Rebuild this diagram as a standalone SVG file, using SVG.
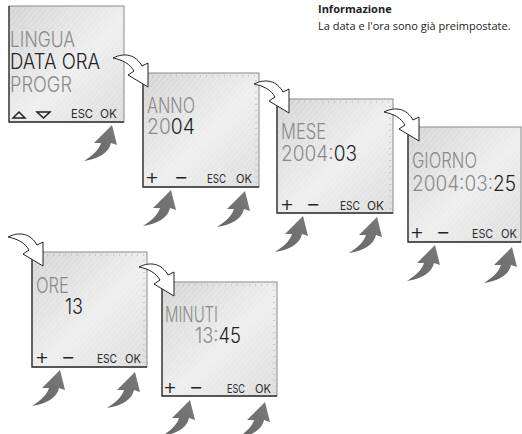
<svg xmlns="http://www.w3.org/2000/svg" xmlns:xlink="http://www.w3.org/1999/xlink" width="522" height="434" viewBox="0 0 522 434">
<style>
.lcd{font-family:"Inter","DejaVu Sans Condensed","DejaVu Sans",sans-serif;font-weight:300;font-size:21px}
.dim{fill:#8a8a8a}
.on{fill:#222}
.btn{font-family:"Inter","DejaVu Sans Condensed","DejaVu Sans",sans-serif;font-weight:400;font-size:12px;fill:#2a2a2a}
.sym{font-family:"DejaVu Sans",sans-serif;font-size:16px;fill:#222;text-anchor:middle}
.face{fill:url(#bg)}
.hatch{fill:url(#stripes)}
.edge{fill:none;stroke:#8a8a8a;stroke-width:1}
.dark{fill:none;stroke:#333;stroke-width:1.3}
.ticks{fill:none;stroke:#b0b0b0;stroke-width:1;stroke-dasharray:1 5}
.flow{fill:#fff;stroke:#222;stroke-width:1;stroke-linejoin:miter}
.press{fill:url(#pg)}
.info{font-family:"Open Sans","Noto Sans",sans-serif;font-size:11px;fill:#222}
</style>
<defs>
<linearGradient id="bg" x1="0" y1="0" x2="1" y2="1">
<stop offset="0" stop-color="#d4d4d4"/>
<stop offset="0.55" stop-color="#eeeeee"/>
<stop offset="1" stop-color="#dcdcdc"/>
</linearGradient>
<pattern id="stripes" width="4" height="4" patternUnits="userSpaceOnUse" patternTransform="rotate(40)">
<line x1="0" y1="0" x2="0" y2="4" stroke="#ffffff" stroke-width="1" opacity="0.5"/>
</pattern>
<linearGradient id="pg" x1="0" y1="1" x2="1" y2="0">
<stop offset="0" stop-color="#666"/>
<stop offset="1" stop-color="#7a7a7a"/>
</linearGradient>
<path id="flow" class="flow" d="M0,0 L-20,-12 L-14,-16 C-18,-23 -25,-27 -35,-29 C-23,-35 -12,-32 -6,-21 L0,-24 Z"/>
<path id="press" class="press" d="M0,0 L5,20 L-1,18 C-3,28 -14,34 -28,36 C-20,31 -13,25 -11,18 L-18,18 Z"/>
</defs>

<rect width="522" height="434" fill="#ffffff"/>

<g id="info">
<text class="info" x="318" y="13" font-weight="bold">Informazione</text>
<text class="info" x="318" y="30">La data e l'ora sono già preimpostate.</text>
</g>

<g id="p1" transform="translate(9,6)">
<rect class="face" width="115" height="116"/>
<rect class="hatch" width="115" height="116"/>
<rect class="edge" width="115" height="116"/>
<polyline class="dark" points="0,0 0,116 115,116"/>
<text class="lcd dim" x="1" y="41" textLength="65" lengthAdjust="spacingAndGlyphs">LINGUA</text>
<text class="lcd on" x="1" y="63" textLength="90" lengthAdjust="spacingAndGlyphs">DATA ORA</text>
<text class="lcd dim" x="1" y="86" textLength="62" lengthAdjust="spacingAndGlyphs">PROGR</text>
<polygon points="4,112 10,106 16,112" fill="none" stroke="#222" stroke-width="1.5"/>
<polygon points="28,106 41,106 34.5,112" fill="none" stroke="#222" stroke-width="1.5"/>
<text class="btn" x="62" y="112" textLength="22" lengthAdjust="spacingAndGlyphs">ESC</text>
<text class="btn" x="91" y="112" textLength="17" lengthAdjust="spacingAndGlyphs">OK</text>
</g>

<g id="p2" transform="translate(143,73)">
<rect class="face" width="116" height="114"/>
<rect class="hatch" width="116" height="114"/>
<rect class="edge" width="116" height="114"/>
<polyline class="ticks" points="3,3 113,3 113,111"/>
<polyline class="dark" points="0,0 0,114 116,114"/>
<text class="lcd dim" x="4" y="40" textLength="48" lengthAdjust="spacingAndGlyphs">ANNO</text>
<text class="lcd dim" x="4" y="61" textLength="48" lengthAdjust="spacingAndGlyphs">20<tspan class="on">04</tspan></text>
<text class="sym" x="9" y="110">+</text>
<text class="sym" x="38" y="110">−</text>
<text class="btn" x="64" y="110" textLength="19" lengthAdjust="spacingAndGlyphs">ESC</text>
<text class="btn" x="93" y="110" textLength="16" lengthAdjust="spacingAndGlyphs">OK</text>
</g>

<g id="p3" transform="translate(277,99)">
<rect class="face" width="116" height="114"/>
<rect class="hatch" width="116" height="114"/>
<rect class="edge" width="116" height="114"/>
<polyline class="ticks" points="3,3 113,3 113,111"/>
<polyline class="dark" points="0,0 0,114 116,114"/>
<text class="lcd dim" x="4" y="40" textLength="45" lengthAdjust="spacingAndGlyphs">MESE</text>
<text class="lcd dim" x="4" y="62" textLength="76" lengthAdjust="spacingAndGlyphs">2004:<tspan class="on">03</tspan></text>
<text class="sym" x="10" y="111">+</text>
<text class="sym" x="36" y="111">−</text>
<text class="btn" x="63" y="111" textLength="20" lengthAdjust="spacingAndGlyphs">ESC</text>
<text class="btn" x="90" y="111" textLength="17" lengthAdjust="spacingAndGlyphs">OK</text>
</g>

<g id="p4" transform="translate(408,127)">
<rect class="face" width="113" height="115"/>
<rect class="hatch" width="113" height="115"/>
<rect class="edge" width="113" height="115"/>
<polyline class="dark" points="0,0 0,115 113,115"/>
<text class="lcd dim" x="4" y="41" textLength="65" lengthAdjust="spacingAndGlyphs">GIORNO</text>
<text class="lcd dim" x="4" y="64" textLength="104" lengthAdjust="spacingAndGlyphs">2004:03:<tspan class="on">25</tspan></text>
<text class="sym" x="9" y="111">+</text>
<text class="sym" x="35" y="111">−</text>
<text class="btn" x="64" y="111" textLength="21" lengthAdjust="spacingAndGlyphs">ESC</text>
<text class="btn" x="93" y="111" textLength="16" lengthAdjust="spacingAndGlyphs">OK</text>
</g>

<g id="p5" transform="translate(32,252)">
<rect class="face" width="115" height="115"/>
<rect class="hatch" width="115" height="115"/>
<rect class="edge" width="115" height="115"/>
<polyline class="ticks" points="3,3 112,3 112,112"/>
<polyline class="dark" points="0,0 0,115 115,115"/>
<text class="lcd dim" x="4" y="41" textLength="33" lengthAdjust="spacingAndGlyphs">ORE</text>
<text class="lcd on" x="33" y="62" textLength="18" lengthAdjust="spacingAndGlyphs">13</text>
<text class="sym" x="10" y="111">+</text>
<text class="sym" x="36" y="111">−</text>
<text class="btn" x="65" y="111" textLength="20" lengthAdjust="spacingAndGlyphs">ESC</text>
<text class="btn" x="93" y="111" textLength="16" lengthAdjust="spacingAndGlyphs">OK</text>
</g>

<g id="p6" transform="translate(162,282)">
<rect class="face" width="115" height="114"/>
<rect class="hatch" width="115" height="114"/>
<rect class="edge" width="115" height="114"/>
<polyline class="ticks" points="3,3 112,3 112,111"/>
<polyline class="dark" points="0,0 0,114 115,114"/>
<text class="lcd dim" x="3" y="40" textLength="53" lengthAdjust="spacingAndGlyphs">MINUTI</text>
<text class="lcd dim" x="33" y="61" textLength="46" lengthAdjust="spacingAndGlyphs">13:<tspan class="on">45</tspan></text>
<text class="sym" x="8" y="111">+</text>
<text class="sym" x="34" y="111">−</text>
<text class="btn" x="65" y="111" textLength="18" lengthAdjust="spacingAndGlyphs">ESC</text>
<text class="btn" x="93" y="111" textLength="16" lengthAdjust="spacingAndGlyphs">OK</text>
</g>

<g id="connectors">
<use xlink:href="#flow" transform="translate(148,87)"/>
<use xlink:href="#flow" transform="translate(289,113)"/>
<use xlink:href="#flow" transform="translate(419,141)"/>
<use xlink:href="#flow" transform="translate(43,266)"/>
<use xlink:href="#flow" transform="translate(174,296)"/>
</g>

<g id="presses">
<use xlink:href="#press" transform="translate(112,125)"/>
<use xlink:href="#press" transform="translate(171,190)"/>
<use xlink:href="#press" transform="translate(245,191)"/>
<use xlink:href="#press" transform="translate(303,216)"/>
<use xlink:href="#press" transform="translate(377,217)"/>
<use xlink:href="#press" transform="translate(435,245)"/>
<use xlink:href="#press" transform="translate(512,247)"/>
<use xlink:href="#press" transform="translate(60,370)"/>
<use xlink:href="#press" transform="translate(135,372)"/>
<use xlink:href="#press" transform="translate(190,400)"/>
<use xlink:href="#press" transform="translate(265,402)"/>
</g>
</svg>
